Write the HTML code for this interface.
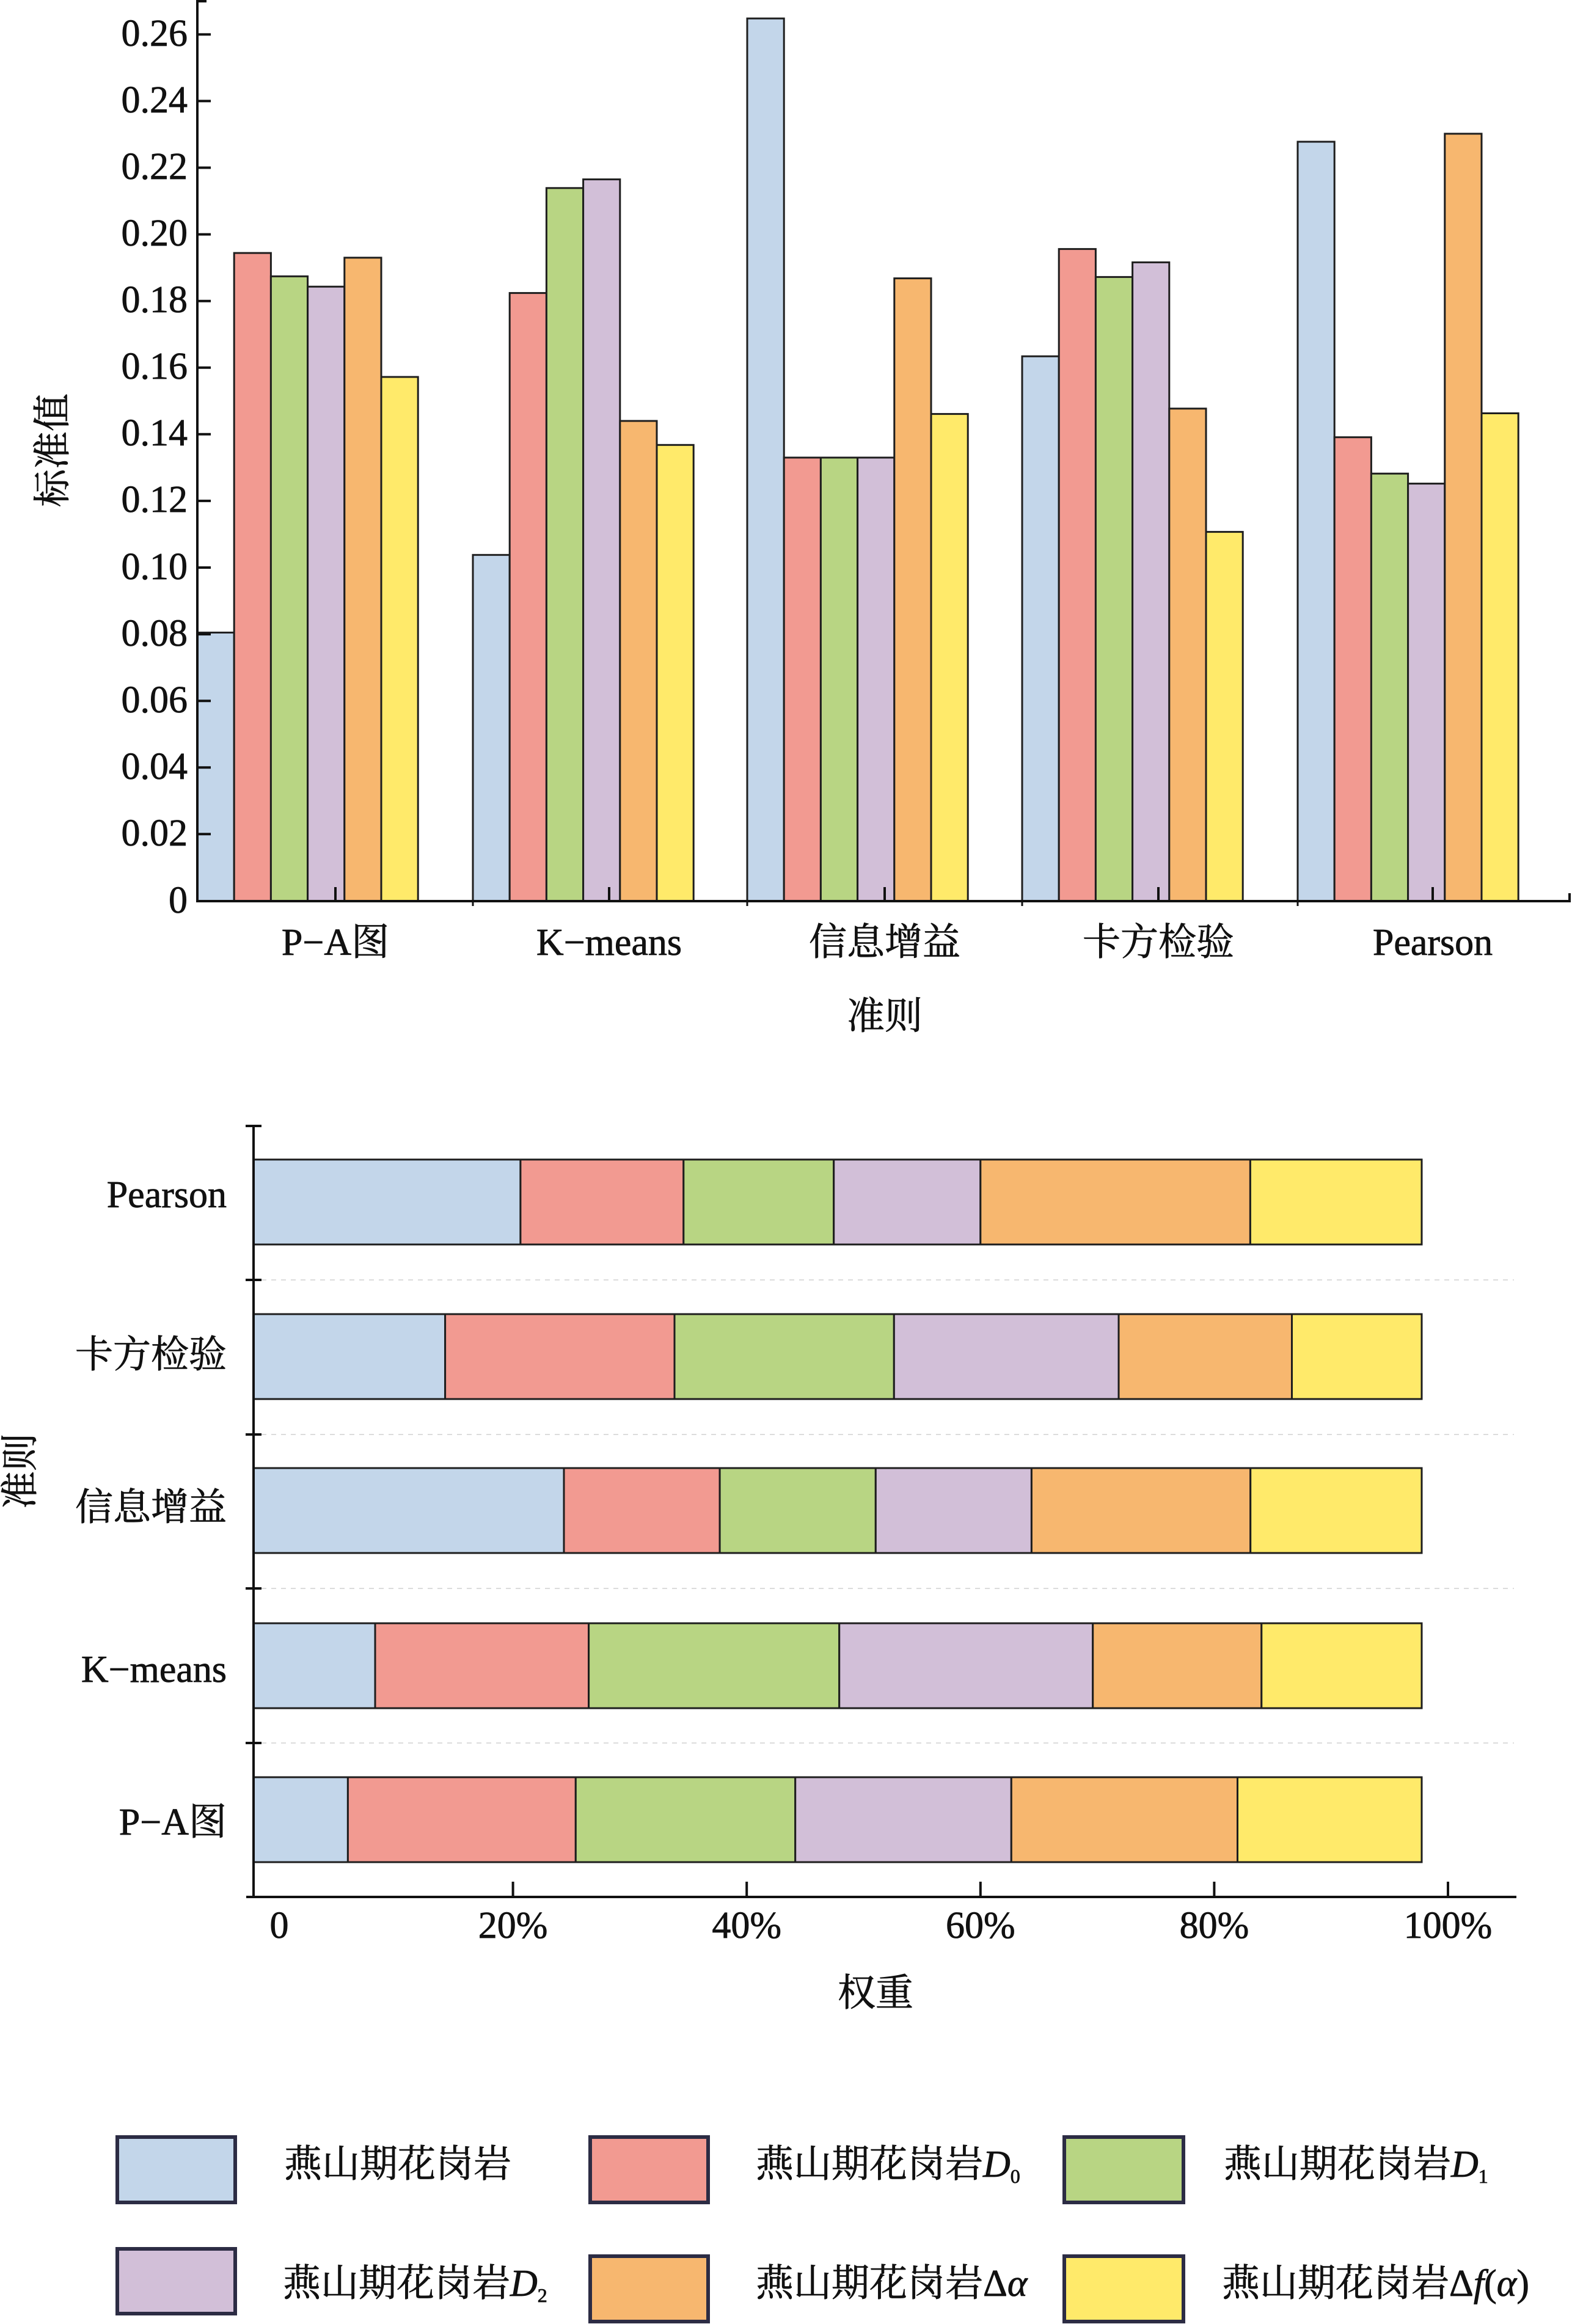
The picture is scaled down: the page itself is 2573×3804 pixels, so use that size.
<!DOCTYPE html>
<html><head><meta charset="utf-8">
<style>
html,body{margin:0;padding:0;background:#fff;}
svg{display:block;}
text{font-family:"Liberation Serif","Noto Serif CJK SC",serif;fill:#111;stroke:#111;stroke-width:0.8px;}
</style></head>
<body>
<svg width="2573" height="3804" viewBox="0 0 2573 3804" xmlns="http://www.w3.org/2000/svg">
<rect width="2573" height="3804" fill="#fff"/>

<!-- ============ TOP CHART ============ -->
<g stroke="#1e1e1e" stroke-width="3">
<!-- P-A -->
<rect x="323" y="1035.4" width="60.2" height="439.6" fill="#c3d6ea"/>
<rect x="383.2" y="414.1" width="60.2" height="1060.9" fill="#f29a91"/>
<rect x="443.4" y="452.3" width="60.2" height="1022.7" fill="#b8d583"/>
<rect x="503.6" y="469.2" width="60.2" height="1005.8" fill="#d2bfd8"/>
<rect x="563.8" y="421.8" width="60.2" height="1053.2" fill="#f7b76f"/>
<rect x="624" y="617" width="60.2" height="858" fill="#ffea6a"/>
<!-- K-means -->
<rect x="774" y="908.3" width="60.2" height="566.7" fill="#c3d6ea"/>
<rect x="834.2" y="479.6" width="60.2" height="995.4" fill="#f29a91"/>
<rect x="894.4" y="307.8" width="60.2" height="1167.2" fill="#b8d583"/>
<rect x="954.6" y="293.6" width="60.2" height="1181.4" fill="#d2bfd8"/>
<rect x="1014.8" y="689" width="60.2" height="786" fill="#f7b76f"/>
<rect x="1075" y="728.3" width="60.2" height="746.7" fill="#ffea6a"/>
<!-- Xinxi -->
<rect x="1223" y="30.2" width="60.2" height="1444.8" fill="#c3d6ea"/>
<rect x="1283.2" y="749" width="60.2" height="726" fill="#f29a91"/>
<rect x="1343.4" y="749" width="60.2" height="726" fill="#b8d583"/>
<rect x="1403.6" y="749" width="60.2" height="726" fill="#d2bfd8"/>
<rect x="1463.8" y="455.6" width="60.2" height="1019.4" fill="#f7b76f"/>
<rect x="1524" y="677.6" width="60.2" height="797.4" fill="#ffea6a"/>
<!-- Kafang -->
<rect x="1673" y="583.2" width="60.2" height="891.8" fill="#c3d6ea"/>
<rect x="1733.2" y="407.6" width="60.2" height="1067.4" fill="#f29a91"/>
<rect x="1793.4" y="453.4" width="60.2" height="1021.6" fill="#b8d583"/>
<rect x="1853.6" y="429.4" width="60.2" height="1045.6" fill="#d2bfd8"/>
<rect x="1913.8" y="668.8" width="60.2" height="806.2" fill="#f7b76f"/>
<rect x="1974" y="870.6" width="60.2" height="604.4" fill="#ffea6a"/>
<!-- Pearson -->
<rect x="2124" y="232" width="60.2" height="1243" fill="#c3d6ea"/>
<rect x="2184.2" y="715.7" width="60.2" height="759.3" fill="#f29a91"/>
<rect x="2244.4" y="775.2" width="60.2" height="699.8" fill="#b8d583"/>
<rect x="2304.6" y="791.6" width="60.2" height="683.4" fill="#d2bfd8"/>
<rect x="2364.8" y="218.9" width="60.2" height="1256.1" fill="#f7b76f"/>
<rect x="2425" y="676.5" width="60.2" height="798.5" fill="#ffea6a"/>
</g>

<!-- axes -->
<g stroke="#111" stroke-width="4" fill="none">
<line x1="323" y1="0" x2="323" y2="1477"/>
<line x1="321" y1="2" x2="338" y2="2"/>
<line x1="321" y1="1475" x2="2571" y2="1475"/>
<line x1="2569" y1="1462" x2="2569" y2="1477"/>
<!-- y ticks -->
<line x1="323" y1="1365.3" x2="345" y2="1365.3"/>
<line x1="323" y1="1256.2" x2="345" y2="1256.2"/>
<line x1="323" y1="1147.2" x2="345" y2="1147.2"/>
<line x1="323" y1="1038.1" x2="345" y2="1038.1"/>
<line x1="323" y1="929.0" x2="345" y2="929.0"/>
<line x1="323" y1="819.9" x2="345" y2="819.9"/>
<line x1="323" y1="710.8" x2="345" y2="710.8"/>
<line x1="323" y1="601.8" x2="345" y2="601.8"/>
<line x1="323" y1="492.7" x2="345" y2="492.7"/>
<line x1="323" y1="383.6" x2="345" y2="383.6"/>
<line x1="323" y1="274.5" x2="345" y2="274.5"/>
<line x1="323" y1="165.4" x2="345" y2="165.4"/>
<line x1="323" y1="56.4" x2="345" y2="56.4"/>
<!-- x ticks -->
<line x1="549" y1="1452" x2="549" y2="1475"/>
<line x1="997" y1="1452" x2="997" y2="1475"/>
<line x1="1448" y1="1452" x2="1448" y2="1475"/>
<line x1="1896" y1="1452" x2="1896" y2="1475"/>
<line x1="2345" y1="1452" x2="2345" y2="1475"/>
<line x1="774" y1="1475" x2="774" y2="1483" stroke-width="3"/>
<line x1="1223" y1="1475" x2="1223" y2="1483" stroke-width="3"/>
<line x1="1673" y1="1475" x2="1673" y2="1483" stroke-width="3"/>
<line x1="2124" y1="1475" x2="2124" y2="1483" stroke-width="3"/>
</g>

<!-- y tick labels -->
<g font-size="62" text-anchor="end">
<text x="307" y="1494">0</text>
<text x="307" y="1384">0.02</text>
<text x="307" y="1275">0.04</text>
<text x="307" y="1166">0.06</text>
<text x="307" y="1057">0.08</text>
<text x="307" y="948">0.10</text>
<text x="307" y="838">0.12</text>
<text x="307" y="729">0.14</text>
<text x="307" y="620">0.16</text>
<text x="307" y="511">0.18</text>
<text x="307" y="402">0.20</text>
<text x="307" y="293">0.22</text>
<text x="307" y="184">0.24</text>
<text x="307" y="75">0.26</text>
</g>

<!-- x tick labels -->
<g font-size="62" text-anchor="middle">
<text x="549" y="1563">P−A图</text>
<text x="997" y="1563">K−means</text>
<text x="1448" y="1563">信息增益</text>
<text x="1896" y="1563">卡方检验</text>
<text x="2345" y="1563">Pearson</text>
<text x="1448" y="1684">准则</text>
</g>
<text font-size="62" text-anchor="middle" transform="translate(107,737) rotate(-90)">标准值</text>

<!-- ============ BOTTOM CHART ============ -->
<!-- dotted grid -->
<g stroke="#dcdcdc" stroke-width="2" stroke-dasharray="8 8">
<line x1="428" y1="2095" x2="2478" y2="2095"/>
<line x1="428" y1="2348" x2="2478" y2="2348"/>
<line x1="428" y1="2600" x2="2478" y2="2600"/>
<line x1="428" y1="2853" x2="2478" y2="2853"/>
</g>

<g stroke="#1e1e1e" stroke-width="3">
<!-- Pearson -->
<rect x="415" y="1898" width="436.9" height="139" fill="#c3d6ea"/>
<rect x="851.9" y="1898" width="266.9" height="139" fill="#f29a91"/>
<rect x="1118.8" y="1898" width="245.9" height="139" fill="#b8d583"/>
<rect x="1364.7" y="1898" width="240.1" height="139" fill="#d2bfd8"/>
<rect x="1604.8" y="1898" width="441.6" height="139" fill="#f7b76f"/>
<rect x="2046.4" y="1898" width="280.6" height="139" fill="#ffea6a"/>
<!-- Kafang -->
<rect x="415" y="2151" width="313.6" height="139" fill="#c3d6ea"/>
<rect x="728.6" y="2151" width="375.4" height="139" fill="#f29a91"/>
<rect x="1104" y="2151" width="359.3" height="139" fill="#b8d583"/>
<rect x="1463.3" y="2151" width="367.7" height="139" fill="#d2bfd8"/>
<rect x="1831" y="2151" width="283.5" height="139" fill="#f7b76f"/>
<rect x="2114.5" y="2151" width="212.5" height="139" fill="#ffea6a"/>
<!-- Xinxi -->
<rect x="415" y="2403" width="508" height="139" fill="#c3d6ea"/>
<rect x="923" y="2403" width="255.1" height="139" fill="#f29a91"/>
<rect x="1178.1" y="2403" width="255.2" height="139" fill="#b8d583"/>
<rect x="1433.3" y="2403" width="255.1" height="139" fill="#d2bfd8"/>
<rect x="1688.4" y="2403" width="358.3" height="139" fill="#f7b76f"/>
<rect x="2046.7" y="2403" width="280.3" height="139" fill="#ffea6a"/>
<!-- K-means -->
<rect x="415" y="2657" width="199" height="139" fill="#c3d6ea"/>
<rect x="614" y="2657" width="349.6" height="139" fill="#f29a91"/>
<rect x="963.6" y="2657" width="410.1" height="139" fill="#b8d583"/>
<rect x="1373.7" y="2657" width="415" height="139" fill="#d2bfd8"/>
<rect x="1788.7" y="2657" width="276.1" height="139" fill="#f7b76f"/>
<rect x="2064.8" y="2657" width="262.2" height="139" fill="#ffea6a"/>
<!-- P-A -->
<rect x="415" y="2909" width="154.4" height="139" fill="#c3d6ea"/>
<rect x="569.4" y="2909" width="372.9" height="139" fill="#f29a91"/>
<rect x="942.3" y="2909" width="359.4" height="139" fill="#b8d583"/>
<rect x="1301.7" y="2909" width="353.6" height="139" fill="#d2bfd8"/>
<rect x="1655.3" y="2909" width="370.2" height="139" fill="#f7b76f"/>
<rect x="2025.5" y="2909" width="301.5" height="139" fill="#ffea6a"/>
</g>

<g stroke="#111" stroke-width="4" fill="none">
<line x1="415" y1="1843" x2="415" y2="3107"/>
<line x1="402" y1="1843" x2="428" y2="1843"/>
<line x1="402" y1="2095" x2="428" y2="2095"/>
<line x1="402" y1="2348" x2="428" y2="2348"/>
<line x1="402" y1="2600" x2="428" y2="2600"/>
<line x1="402" y1="2853" x2="428" y2="2853"/>
<line x1="403" y1="3105" x2="2482" y2="3105"/>
<line x1="839.6" y1="3080" x2="839.6" y2="3105"/>
<line x1="1222.2" y1="3080" x2="1222.2" y2="3105"/>
<line x1="1604.8" y1="3080" x2="1604.8" y2="3105"/>
<line x1="1987.4" y1="3080" x2="1987.4" y2="3105"/>
<line x1="2370" y1="3080" x2="2370" y2="3105"/>
</g>

<!-- bottom y labels -->
<g font-size="62" text-anchor="end">
<text x="371" y="1976">Pearson</text>
<text x="371" y="2238">卡方检验</text>
<text x="371" y="2488">信息增益</text>
<text x="371" y="2753">K−means</text>
<text x="371" y="3003">P−A图</text>
</g>
<text font-size="62" text-anchor="middle" transform="translate(54,2408) rotate(-90)">准则</text>

<!-- bottom x labels -->
<g font-size="62" text-anchor="middle">
<text x="457" y="3172">0</text>
<text x="839.6" y="3172">20%</text>
<text x="1222.2" y="3172">40%</text>
<text x="1604.8" y="3172">60%</text>
<text x="1987.4" y="3172">80%</text>
<text x="2370" y="3172">100%</text>
<text x="1433" y="3283">权重</text>
</g>

<!-- ============ LEGEND ============ -->
<g stroke="#2c2c44" stroke-width="6">
<rect x="192" y="3498" width="193" height="107" fill="#c3d6ea"/>
<rect x="966" y="3498" width="193" height="107" fill="#f29a91"/>
<rect x="1742" y="3498" width="195" height="107" fill="#b8d583"/>
<rect x="192" y="3681" width="193" height="106" fill="#d2bfd8"/>
<rect x="966" y="3693" width="193" height="107" fill="#f7b76f"/>
<rect x="1742" y="3693" width="195" height="107" fill="#ffea6a"/>
</g>
<g font-size="62">
<text x="465" y="3563">燕山期花岗岩</text>
<text x="1237" y="3563">燕山期花岗岩<tspan font-style="italic">D</tspan><tspan font-size="32" dy="10">0</tspan></text>
<text x="2003" y="3563">燕山期花岗岩<tspan font-style="italic">D</tspan><tspan font-size="32" dy="10">1</tspan></text>
<text x="463" y="3758">燕山期花岗岩<tspan font-style="italic">D</tspan><tspan font-size="32" dy="10">2</tspan></text>
<text x="1237" y="3758">燕山期花岗岩Δ<tspan font-style="italic">α</tspan></text>
<text x="2000" y="3758">燕山期花岗岩Δ<tspan font-style="italic">f</tspan>(<tspan font-style="italic">α</tspan>)</text>
</g>
</svg>
</body></html>
